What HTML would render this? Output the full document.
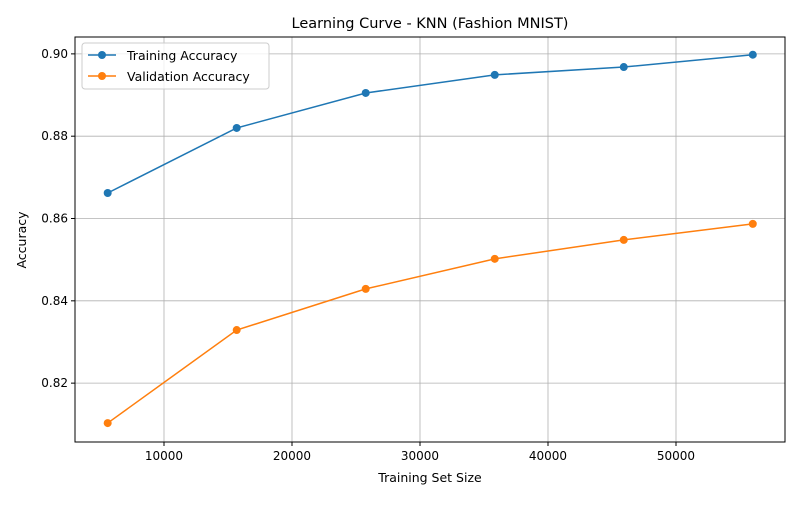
<!DOCTYPE html>
<html><head><meta charset="utf-8"><style>
body{margin:0;background:#fff;font-family:"Liberation Sans","DejaVu Sans",sans-serif;}
svg text{font-family:"DejaVu Sans","Liberation Sans",sans-serif;}
</style></head><body>
<svg id="chart" width="800" height="500">
<rect width="800" height="500" fill="#fff"/>
<g id="grid"></g>
<g id="ticks"></g>
<rect x="75" y="37" width="710" height="405" fill="none" stroke="#000" stroke-width="1"/>
<g id="series"></g>
<text x="430" y="28" text-anchor="middle" font-size="14.5">Learning Curve - KNN (Fashion MNIST)</text>
<text x="430" y="482" text-anchor="middle" font-size="12.5">Training Set Size</text>
<text x="26" y="240" text-anchor="middle" font-size="12.5" transform="rotate(-90 26 240)">Accuracy</text>
<g>
<rect x="82" y="43" width="187" height="46" rx="3" fill="#fff" fill-opacity="0.8" stroke="#ccc"/>
<g>
<line x1="88" y1="55" x2="116" y2="55" stroke="#1f77b4" stroke-width="1.5"/><circle cx="102" cy="55" r="4" fill="#1f77b4"/>
<text x="127" y="60" font-size="12.5">Training Accuracy</text></g>
<g>
<line x1="88" y1="76" x2="116" y2="76" stroke="#ff7f0e" stroke-width="1.5"/><circle cx="102" cy="76" r="4" fill="#ff7f0e"/>
<text x="127" y="81" font-size="12.5">Validation Accuracy</text></g>
</g>
</svg>
<script>
const sizes=[5600,15680,25760,35840,45920,56000];
const trainAcc=[0.8662,0.8820,0.8905,0.8949,0.8968,0.8998];
const valAcc=[0.8103,0.8329,0.8429,0.8502,0.8548,0.8587];
const xTicks=[10000,20000,30000,40000,50000];
const yTicks=[0.82,0.84,0.86,0.88,0.90];
const L=75,R=785,T=37,B=442,xMin=3047,xMax=58516,yMin=0.8057,yMax=0.9041;
const sx=v=>L+(v-xMin)/(xMax-xMin)*(R-L);
const sy=v=>B-(v-yMin)/(yMax-yMin)*(B-T);
const NS="http://www.w3.org/2000/svg";
function mk(t,a,p){const e=document.createElementNS(NS,t);for(const k in a)e.setAttribute(k,a[k]);p.appendChild(e);return e;}
const grid=document.getElementById('grid'),ticks=document.getElementById('ticks'),ser=document.getElementById('series');
xTicks.forEach(v=>{const x=sx(v);
const g=mk('line',{x1:x,x2:x,y1:T,y2:B,stroke:'#b0b0b0','stroke-width':0.8},grid);


mk('line',{x1:x,x2:x,y1:B,y2:B+4,stroke:'#000'},ticks);
const t=mk('text',{x:x,y:B+18,'text-anchor':'middle','font-size':12},ticks);t.textContent=v;

});
yTicks.forEach(v=>{const y=sy(v);
const g=mk('line',{x1:L,x2:R,y1:y,y2:y,stroke:'#b0b0b0','stroke-width':0.8},grid);


mk('line',{x1:L-4,x2:L,y1:y,y2:y,stroke:'#000'},ticks);
const t=mk('text',{x:L-7,y:y+4,'text-anchor':'end','font-size':12},ticks);t.textContent=v.toFixed(2);

});
function draw(vals,color,name){
const pl=mk('polyline',{points:sizes.map((s,i)=>sx(s)+','+sy(vals[i])).join(' '),fill:'none',stroke:color,'stroke-width':1.5},ser);


sizes.forEach((s,i)=>{const c=mk('circle',{cx:sx(s),cy:sy(vals[i]),r:4,fill:color},ser);

});}
draw(trainAcc,'#1f77b4','training-accuracy');
draw(valAcc,'#ff7f0e','validation-accuracy');
</script>
</body></html>
